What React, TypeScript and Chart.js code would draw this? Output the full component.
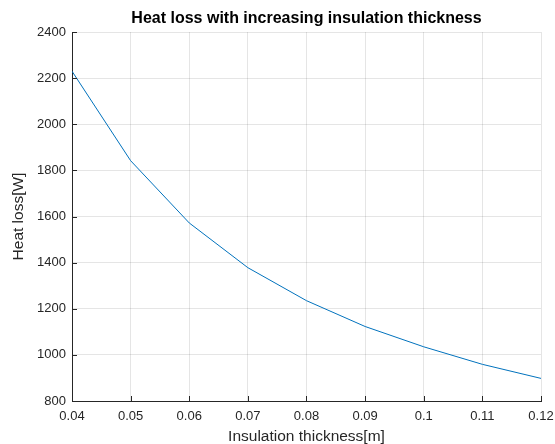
import React, { useEffect, useRef } from "react";
import { Chart, registerables } from "chart.js";

Chart.register(...registerables);

const thickness = [0.04, 0.05, 0.06, 0.07, 0.08, 0.09, 0.1, 0.11, 0.12];
const heatLoss = [2230, 1842, 1572, 1378, 1235, 1123, 1035, 959, 898];
const titleText = "Heat loss with increasing insulation thickness";
const xLabel = "Insulation thickness[m]";
const yLabel = "Heat loss[W]";

const FONT = "'Liberation Sans', Arial, Helvetica, sans-serif";
const AXIS = "#262626";

const insideTicks = {
  id: "insideTicks",
  afterDatasetsDraw(chart: any) {
    const { ctx, chartArea, scales } = chart;
    ctx.save();
    ctx.strokeStyle = AXIS;
    ctx.lineWidth = 1;
    const xs = scales.x;
    xs.ticks.forEach((_t: any, i: number) => {
      const px = Math.round(xs.getPixelForTick(i)) + 0.5;
      ctx.beginPath();
      ctx.moveTo(px, chartArea.bottom);
      ctx.lineTo(px, chartArea.bottom - 5);
      ctx.stroke();
    });
    const ys = scales.y;
    ys.ticks.forEach((_t: any, i: number) => {
      const py = Math.round(ys.getPixelForTick(i)) + 0.5;
      ctx.beginPath();
      ctx.moveTo(chartArea.left, py);
      ctx.lineTo(chartArea.left + 5, py);
      ctx.stroke();
    });
    ctx.restore();
  },
};

export default function App() {
  const ref = useRef<HTMLCanvasElement>(null);
  useEffect(() => {
    if (!ref.current) return;
    const chart = new Chart(ref.current, {
      type: "line",
      data: {
        datasets: [
          {
            data: thickness.map((x, i) => ({ x, y: heatLoss[i] })),
            borderColor: "#0072BD",
            borderWidth: 1,
            pointRadius: 0,
            tension: 0,
            fill: false,
          },
        ],
      },
      options: {
        responsive: false,
        animation: false,
        layout: { padding: { left: 0, right: 14, top: 0, bottom: 0 } },
        plugins: {
          legend: { display: false },
          tooltip: { enabled: false },
          title: {
            display: true,
            text: titleText,
            fullSize: false,
            color: "#000",
            font: { family: FONT, size: 16, weight: "bold", lineHeight: 1.2 },
            padding: { top: 8.6, bottom: 4.2 },
          },
        },
        scales: {
          x: {
            type: "linear",
            min: 0.04,
            max: 0.12,
            afterFit: (s: any) => {
              s.height = 43;
              s.paddingLeft = 0;
              s.paddingRight = 0;
            },
            ticks: {
              stepSize: 0.01,
              color: AXIS,
              font: { family: FONT, size: 13 },
              padding: 8,
              maxRotation: 0,
              autoSkip: false,
              callback: (v: any) => String(Math.round(Number(v) * 100) / 100),
            },
            grid: { color: "rgba(0,0,0,0.1)", drawTicks: false },
            border: { color: AXIS, width: 1 },
            title: {
              display: true,
              text: xLabel,
              color: AXIS,
              font: { family: FONT, size: 15.5, lineHeight: 1 },
              padding: { top: 0, bottom: 0 },
            },
          },
          y: {
            type: "linear",
            min: 800,
            max: 2400,
            afterFit: (s: any) => {
              s.width = 72;
              s.paddingTop = 0;
              s.paddingBottom = 0;
            },
            ticks: {
              stepSize: 200,
              color: AXIS,
              font: { family: FONT, size: 13 },
              padding: 6,
              callback: (v: any) => String(v),
            },
            grid: { color: "rgba(0,0,0,0.1)", drawTicks: false },
            border: { color: AXIS, width: 1 },
            title: {
              display: true,
              text: yLabel,
              color: AXIS,
              font: { family: FONT, size: 15.5, lineHeight: 1 },
              padding: { top: 11, bottom: 0 },
            },
          },
        },
      },
      plugins: [insideTicks],
    } as any);
    return () => chart.destroy();
  }, []);
  return (
    <div style={{ position: "fixed", left: 0, top: 0, width: 555, height: 444, background: "#fff" }}>
      <canvas ref={ref} width={555} height={444} />
    </div>
  );
}
